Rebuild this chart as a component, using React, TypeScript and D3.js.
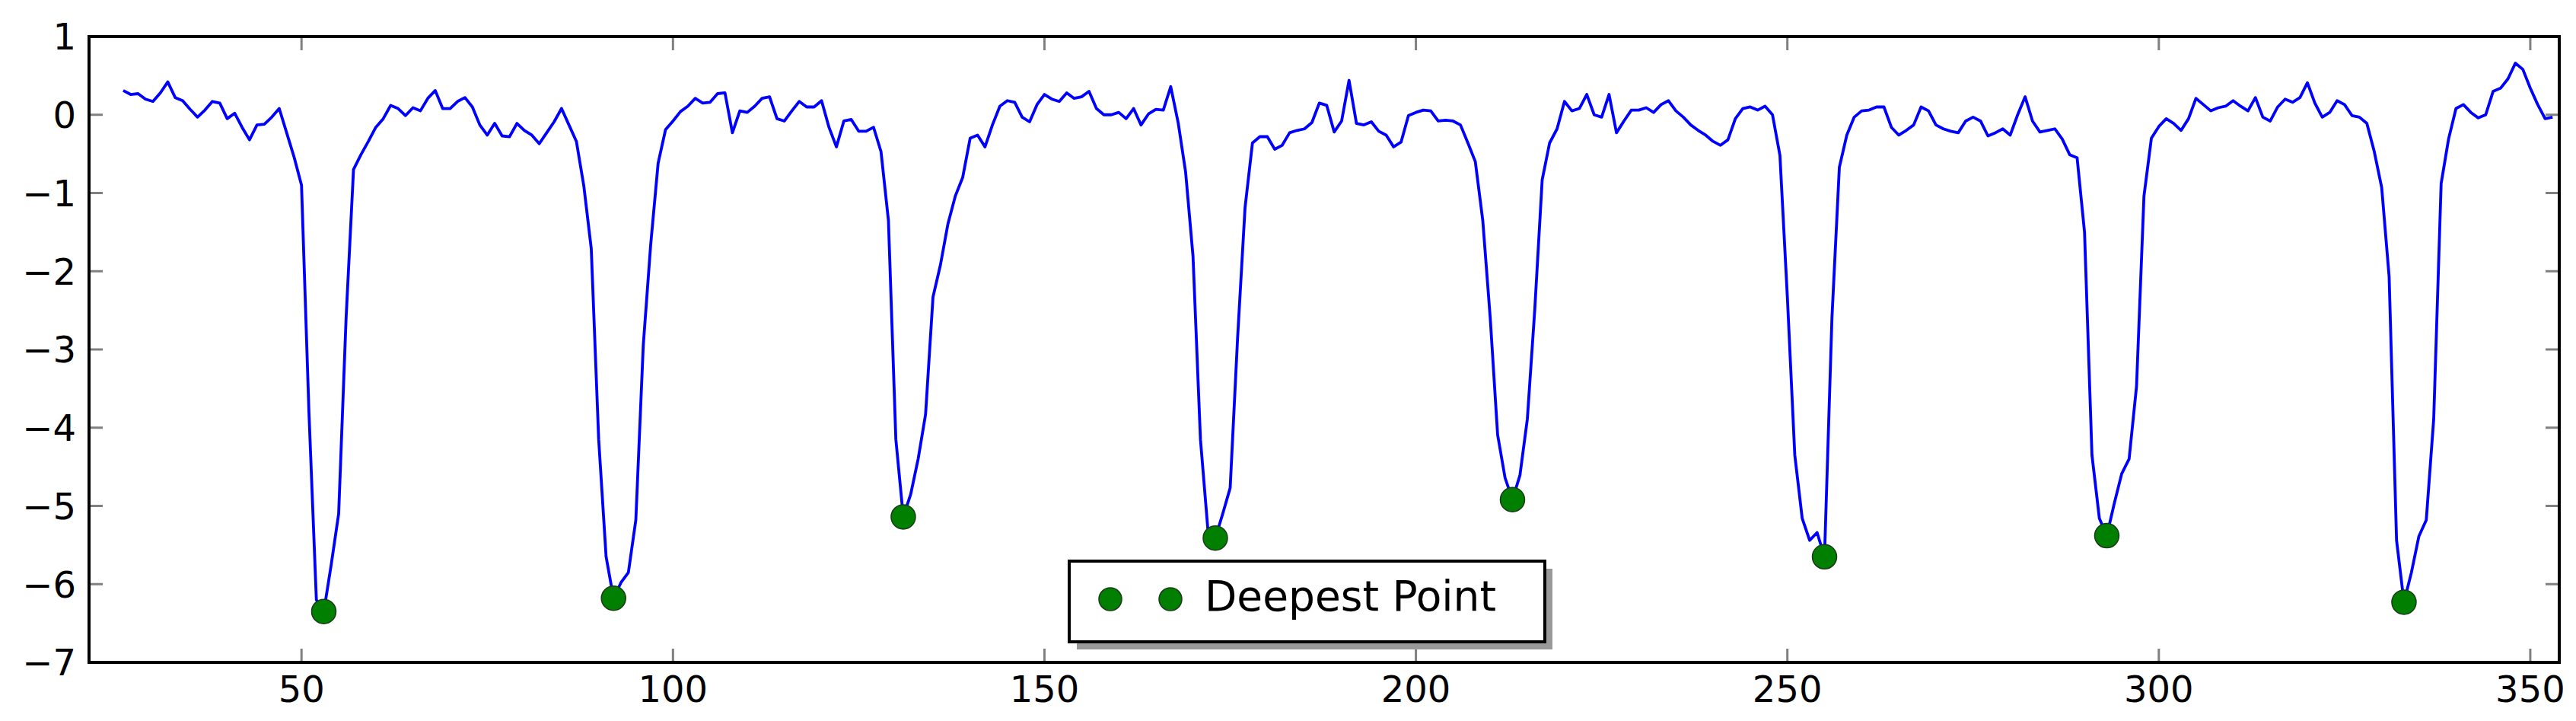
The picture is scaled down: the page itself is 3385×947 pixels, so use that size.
import React from 'react';
import * as d3 from 'd3';

// frame numbers start here, one sample per frame
const frameStart = 26;

// signal values, frames 26..353
const depth: number[] = [
  0.31, 0.26, 0.27, 0.20, 0.17, 0.28, 0.42, 0.22, 0.18, 0.07, // 26-35
  -0.03, 0.06, 0.17, 0.15, -0.05, 0.02, -0.16, -0.32, -0.13, -0.12, // 36-45
  -0.03, 0.08, -0.23, -0.54, -0.90, -3.80, -6.20, -6.35, -5.75, -5.10, // 46-55
  -2.60, -0.70, -0.51, -0.34, -0.16, -0.05, 0.12, 0.08, -0.01, 0.09, // 56-65
  0.05, 0.21, 0.31, 0.08, 0.08, 0.17, 0.22, 0.10, -0.13, -0.26, // 66-75
  -0.11, -0.27, -0.28, -0.11, -0.20, -0.26, -0.37, -0.23, -0.09, 0.08, // 76-85
  -0.13, -0.34, -0.91, -1.71, -4.15, -5.65, -6.18, -5.98, -5.85, -5.18, // 86-95
  -2.95, -1.66, -0.62, -0.19, -0.08, 0.04, 0.11, 0.21, 0.15, 0.16, // 96-105
  0.27, 0.28, -0.23, 0.05, 0.03, 0.11, 0.21, 0.23, -0.05, -0.08, // 106-115
  0.05, 0.17, 0.10, 0.10, 0.18, -0.16, -0.41, -0.08, -0.06, -0.21, // 116-125
  -0.21, -0.16, -0.47, -1.35, -4.15, -5.14, -4.85, -4.40, -3.83, -2.33, // 126-135
  -1.92, -1.40, -1.04, -0.80, -0.30, -0.26, -0.41, -0.13, 0.11, 0.18, // 136-145
  0.16, -0.03, -0.09, 0.13, 0.26, 0.20, 0.17, 0.28, 0.21, 0.23, // 146-155
  0.30, 0.08, 0.00, 0.00, 0.03, -0.05, 0.08, -0.13, 0.01, 0.07, // 156-165
  0.06, 0.36, -0.10, -0.73, -1.81, -4.15, -5.30, -5.41, -5.10, -4.77, // 166-175
  -2.85, -1.19, -0.36, -0.28, -0.28, -0.44, -0.39, -0.23, -0.20, -0.18, // 176-185
  -0.10, 0.15, 0.12, -0.22, -0.08, 0.44, -0.11, -0.13, -0.09, -0.21, // 186-195
  -0.26, -0.41, -0.35, -0.01, 0.03, 0.06, 0.05, -0.08, -0.07, -0.08, // 196-205
  -0.13, -0.36, -0.60, -1.35, -2.59, -4.09, -4.64, -4.92, -4.61, -3.89, // 206-215
  -2.49, -0.83, -0.36, -0.18, 0.17, 0.05, 0.08, 0.26, 0.00, -0.03, // 216-225
  0.26, -0.23, -0.08, 0.06, 0.06, 0.09, 0.03, 0.13, 0.18, 0.05, // 226-235
  -0.03, -0.13, -0.20, -0.26, -0.34, -0.39, -0.32, -0.05, 0.08, 0.10, // 236-245
  0.06, 0.11, 0.00, -0.52, -2.33, -4.35, -5.16, -5.44, -5.34, -5.65, // 246-255
  -2.60, -0.67, -0.26, -0.03, 0.05, 0.06, 0.10, 0.10, -0.16, -0.26, // 256-265
  -0.20, -0.13, 0.10, 0.05, -0.13, -0.18, -0.21, -0.23, -0.08, -0.03, // 266-275
  -0.08, -0.27, -0.23, -0.18, -0.26, 0.00, 0.23, -0.08, -0.22, -0.20, // 276-285
  -0.18, -0.31, -0.51, -0.55, -1.50, -4.35, -5.16, -5.38, -4.97, -4.59, // 286-295
  -4.40, -3.47, -1.04, -0.30, -0.15, -0.05, -0.11, -0.20, -0.05, 0.21, // 296-305
  0.13, 0.05, 0.09, 0.11, 0.18, 0.11, 0.05, 0.22, -0.03, -0.08, // 306-315
  0.10, 0.20, 0.16, 0.22, 0.41, 0.15, -0.03, 0.03, 0.18, 0.13, // 316-325
  -0.01, -0.03, -0.11, -0.47, -0.93, -2.07, -5.44, -6.23, -5.85, -5.39, // 326-335
  -5.18, -3.89, -0.88, -0.31, 0.08, 0.13, 0.03, -0.04, 0.00, 0.30, // 336-345
  0.34, 0.46, 0.66, 0.58, 0.34, 0.13, -0.05, -0.03, // 346-353
];

// frames picked as the deepest point of each dip
const deepestFrames = [53, 92, 131, 173, 213, 255, 293, 333];

const xTicks = [50, 100, 150, 200, 250, 300, 350];
const yTicks = [-7, -6, -5, -4, -3, -2, -1, 0, 1];
const legendLabel = 'Deepest Point';

const W = 3385;
const H = 947;
const plot = { left: 117, right: 3363, top: 48, bottom: 870 };
const FONT = 'DejaVu Sans, sans-serif';

const fmt = (v: number) => (v < 0 ? '\u2212' + Math.abs(v) : String(v));

export default function App() {
  const series = depth.map((v, i) => ({ frame: frameStart + i, v }));
  const deepest = deepestFrames.map(f => series.find(d => d.frame === f)!);

  const x = d3.scaleLinear().domain([21.4, 353.9]).range([plot.left, plot.right]);
  const y = d3.scaleLinear().domain([-7, 1]).range([plot.bottom, plot.top]);

  const line = d3.line<{ frame: number; v: number }>()
    .x(d => x(d.frame))
    .y(d => y(d.v));

  const tickLen = 18;
  const tickStyle = { stroke: '#808080', strokeWidth: 3 };

  // legend box (classic style, with shadow)
  const lg = { x: 1405, y: 737, w: 625, h: 106 };

  return (
    <div style={{ position: 'absolute', left: 0, top: 0 }}>
      <svg width={W} height={H} style={{ display: 'block', background: '#fff' }}>
        <defs>
          <clipPath id="plot-clip">
            <rect x={plot.left} y={plot.top} width={plot.right - plot.left} height={plot.bottom - plot.top} />
          </clipPath>
        </defs>

        {/* ticks, inside on all four sides */}
        {xTicks.map(t => (
          <g key={'xt' + t}>
            <line x1={x(t)} x2={x(t)} y1={plot.bottom} y2={plot.bottom - tickLen} {...tickStyle} />
            <line x1={x(t)} x2={x(t)} y1={plot.top} y2={plot.top + tickLen} {...tickStyle} />
            <text x={x(t)} y={922} textAnchor="middle" fontFamily={FONT} fontSize={48} fill="#000">
              {fmt(t)}
            </text>
          </g>
        ))}
        {yTicks.map(t => (
          <g key={'yt' + t}>
            <line x1={plot.left} x2={plot.left + tickLen} y1={y(t)} y2={y(t)} {...tickStyle} />
            <line x1={plot.right} x2={plot.right - tickLen} y1={y(t)} y2={y(t)} {...tickStyle} />
            <text x={100} y={y(t)} dy="0.36em" textAnchor="end" fontFamily={FONT} fontSize={48} fill="#000">
              {fmt(t)}
            </text>
          </g>
        ))}

        <g clipPath="url(#plot-clip)">
          <path d={line(series) ?? ''} fill="none" stroke="#0000ff" strokeWidth={3.8} strokeLinejoin="round" />
        </g>

        {deepest.map(d => (
          <circle key={'dp' + d.frame} cx={x(d.frame)} cy={y(d.v)} r={16} fill="#007f00" stroke="#1a3a1a" strokeWidth={1.5} />
        ))}

        {/* axes frame */}
        <rect x={plot.left} y={plot.top} width={plot.right - plot.left} height={plot.bottom - plot.top}
          fill="none" stroke="#000" strokeWidth={4} />

        {/* legend */}
        <rect x={lg.x + 10} y={lg.y + 10} width={lg.w} height={lg.h} fill="#999" />
        <rect x={lg.x} y={lg.y} width={lg.w} height={lg.h} fill="#fff" stroke="#000" strokeWidth={4} />
        {[1459, 1538].map(cx => (
          <circle key={'lm' + cx} cx={cx} cy={787} r={15} fill="#007f00" stroke="#1a3a1a" strokeWidth={1.5} />
        ))}
        <text x={1583} y={802} fontFamily={FONT} fontSize={55} fill="#000">{legendLabel}</text>
      </svg>
    </div>
  );
}
